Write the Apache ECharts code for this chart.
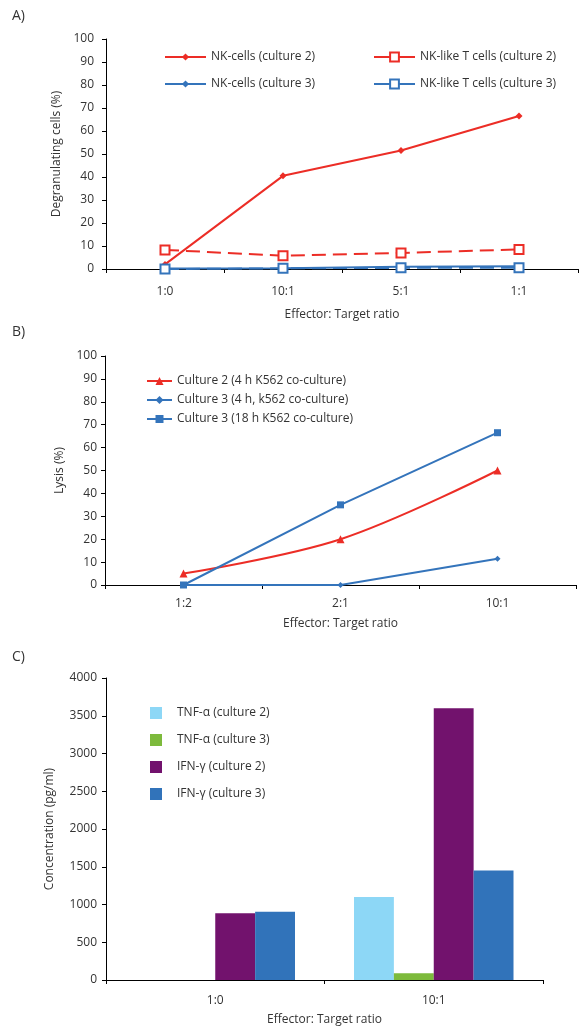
<!DOCTYPE html>
<html>
<head>
<meta charset="utf-8">
<script src="https://cdn.jsdelivr.net/npm/echarts@6/dist/echarts.min.js"></script>
<style>
html,body{margin:0;padding:0;background:#fff;}
#chart{width:580px;height:1028px;}
</style>
</head>
<body>
<div id="chart"></div>
<script>
// ---- Panel A data ----
var catsA = ['1:0', '10:1', '5:1', '1:1'];
var nkC2 = [2, 40.5, 51.5, 66.5];
var nktC2 = [8.3, 5.8, 7.0, 8.5];
var nkC3 = [0.2, 0.3, 1.0, 1.2];
var nktC3 = [0, 0.3, 0.5, 0.5];
// ---- Panel B data ----
var catsB = ['1:2', '2:1', '10:1'];
var lysC2_4h = [5, 20, 50];
var lysC3_4h = [0, 0, 11.5];
var lysC3_18h = [0, 35, 66.5];
// ---- Panel C data ----
var catsC = ['1:0', '10:1'];
var tnfC2 = [0, 1100];
var tnfC3 = [0, 90];
var ifnC2 = [885, 3600];
var ifnC3 = [905, 1450];

var RED = '#EC2D26', BLUE = '#3474BB';
var FONT = 'Open Sans';
var TXT = '#333333';
var FS = 12;

var chart = echarts.init(document.getElementById('chart'), null, {renderer: 'canvas'});

function yAxisCfg(gi, name, max, interval, nameGap, margin) {
  return {
    type: 'value', gridIndex: gi, min: 0, max: max, interval: interval,
    name: name, nameLocation: 'middle', nameGap: nameGap, nameRotate: 90,
    nameTextStyle: {color: TXT, fontSize: FS, fontFamily: FONT},
    axisLine: {show: true, lineStyle: {color: '#000', width: 1}},
    axisTick: {show: true, length: 4, lineStyle: {color: '#000'}},
    splitLine: {show: false},
    axisLabel: {color: TXT, fontSize: FS, fontFamily: FONT, margin: margin,
                formatter: function (v) { return String(v); }}
  };
}
function xAxisCfg(gi, cats, nameGap, margin) {
  return {
    type: 'category', gridIndex: gi, data: cats, boundaryGap: true,
    name: 'Effector: Target ratio', nameLocation: 'middle', nameGap: nameGap,
    nameTextStyle: {color: TXT, fontSize: FS, fontFamily: FONT},
    axisLine: {show: true, lineStyle: {color: '#000', width: 1}},
    axisTick: {show: true, length: 4, lineStyle: {color: '#000'}},
    axisLabel: {color: TXT, fontSize: FS, fontFamily: FONT, margin: margin},
    splitLine: {show: false}
  };
}
var legText = {color: TXT, fontSize: FS, fontFamily: FONT, lineHeight: 14};

var option = {
  backgroundColor: '#fff',
  animation: false,
  textStyle: {fontFamily: FONT},
  graphic: [
    {type: 'text', left: 12, top: 9, style: {text: 'A)', fontSize: 14, fontFamily: FONT, fill: TXT}},
    {type: 'text', left: 12, top: 325, style: {text: 'B)', fontSize: 14, fontFamily: FONT, fill: TXT}},
    {type: 'text', left: 12, top: 650, style: {text: 'C)', fontSize: 14, fontFamily: FONT, fill: TXT}}
  ],
  grid: [
    {left: 106, top: 39, width: 472, height: 230},
    {left: 105, top: 356, width: 471, height: 229},
    {left: 106, top: 678, width: 437, height: 302}
  ],
  xAxis: [
    xAxisCfg(0, catsA, 40, 17),
    xAxisCfg(1, catsB, 33, 13),
    xAxisCfg(2, catsC, 34, 15)
  ],
  yAxis: [
    yAxisCfg(0, 'Degranulating cells (%)', 100, 10, 32, 12),
    yAxisCfg(1, 'Lysis (%)', 100, 10, 36, 8),
    yAxisCfg(2, 'Concentration (pg/ml)', 4000, 500, 50, 9)
  ],
  legend: [
    {data: ['NK-cells (culture 2)', 'NK-cells (culture 3)'], orient: 'vertical', left: 159, top: 45,
     itemWidth: 41, itemHeight: 9, itemGap: 13, textStyle: legText},
    {data: ['NK-like T cells (culture 2)', 'NK-like T cells (culture 3)'], orient: 'vertical', left: 368, top: 45,
     itemWidth: 41, itemHeight: 11, itemGap: 13, textStyle: legText, lineStyle: {type: 'solid'}},
    {data: ['Culture 2 (4 h K562 co-culture)', 'Culture 3 (4 h, k562 co-culture)', 'Culture 3 (18 h K562 co-culture)'],
     orient: 'vertical', left: 141, top: 369, itemWidth: 25, itemHeight: 10, itemGap: 5, textStyle: legText},
    {data: ['TNF-α (culture 2)', 'TNF-α (culture 3)', 'IFN-γ (culture 2)', 'IFN-γ (culture 3)'],
     orient: 'vertical', left: 145, top: 701, itemWidth: 12, itemHeight: 12, itemGap: 13, icon: 'rect',
     textStyle: {color: TXT, fontSize: FS, fontFamily: FONT, lineHeight: 14, padding: [0, 0, 0, 10]}}
  ],
  series: [
    {name: 'NK-cells (culture 2)', type: 'line', xAxisIndex: 0, yAxisIndex: 0, data: nkC2,
     symbol: 'diamond', symbolSize: 7, itemStyle: {color: RED}, lineStyle: {color: RED, width: 2}},
    {name: 'NK-like T cells (culture 2)', type: 'line', xAxisIndex: 0, yAxisIndex: 0, data: nktC2,
     symbol: 'emptyRect', symbolSize: 9, itemStyle: {color: RED, borderWidth: 2}, lineStyle: {color: RED, width: 2, type: [14, 7]}},
    {name: 'NK-cells (culture 3)', type: 'line', xAxisIndex: 0, yAxisIndex: 0, data: nkC3,
     symbol: 'diamond', symbolSize: 7, itemStyle: {color: BLUE}, lineStyle: {color: BLUE, width: 2}},
    {name: 'NK-like T cells (culture 3)', type: 'line', xAxisIndex: 0, yAxisIndex: 0, data: nktC3,
     symbol: 'emptyRect', symbolSize: 9, itemStyle: {color: BLUE, borderWidth: 2}, lineStyle: {color: BLUE, width: 2, type: [14, 7]}},

    {name: 'Culture 2 (4 h K562 co-culture)', type: 'line', xAxisIndex: 1, yAxisIndex: 1, data: lysC2_4h, smooth: 0.35,
     symbol: 'triangle', symbolSize: 8, itemStyle: {color: RED}, lineStyle: {color: RED, width: 2}},
    {name: 'Culture 3 (4 h, k562 co-culture)', type: 'line', xAxisIndex: 1, yAxisIndex: 1, data: lysC3_4h,
     symbol: 'diamond', symbolSize: 6, itemStyle: {color: BLUE}, lineStyle: {color: BLUE, width: 2}},
    {name: 'Culture 3 (18 h K562 co-culture)', type: 'line', xAxisIndex: 1, yAxisIndex: 1, data: lysC3_18h,
     symbol: 'rect', symbolSize: 7, itemStyle: {color: BLUE}, lineStyle: {color: BLUE, width: 2}},

    {name: 'TNF-α (culture 2)', type: 'bar', xAxisIndex: 2, yAxisIndex: 2, data: tnfC2,
     barGap: 0, barCategoryGap: '27%', itemStyle: {color: '#8DD7F6'}},
    {name: 'TNF-α (culture 3)', type: 'bar', xAxisIndex: 2, yAxisIndex: 2, data: tnfC3,
     barGap: 0, barCategoryGap: '27%', itemStyle: {color: '#7DBA3C'}},
    {name: 'IFN-γ (culture 2)', type: 'bar', xAxisIndex: 2, yAxisIndex: 2, data: ifnC2,
     barGap: 0, barCategoryGap: '27%', itemStyle: {color: '#72126D'}},
    {name: 'IFN-γ (culture 3)', type: 'bar', xAxisIndex: 2, yAxisIndex: 2, data: ifnC3,
     barGap: 0, barCategoryGap: '27%', itemStyle: {color: '#3173BA'}}
  ]
};
chart.setOption(option);
</script>
</body>
</html>
